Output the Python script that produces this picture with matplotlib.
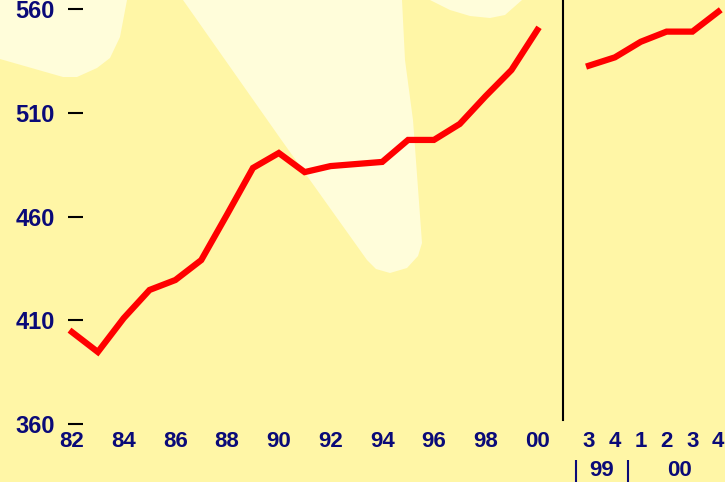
import matplotlib
matplotlib.use("Agg")
import matplotlib.pyplot as plt
from matplotlib.patches import Polygon
from matplotlib.transforms import blended_transform_factory

# --- data ---
years = ["82", "83", "84", "85", "86", "87", "88", "89", "90", "91",
         "92", "93", "94", "95", "96", "97", "98", "99", "00"]
annual = [404.3, 394.7, 411.0, 424.6, 429.4, 439.0, 461.0, 483.4, 490.6, 481.4,
          484.3, 485.3, 486.3, 496.9, 496.9, 504.6, 518.0, 530.6, 549.9]
quarters = ["3", "4", "1", "2", "3", "4"]
quarterly = [532.7, 536.7, 544.2, 549.1, 549.1, 558.7]
quarter_years = ["99", "00"]
quarters_per_year = [2, 4]
y_ticks = [360, 410, 460, 510, 560]

BG = "#FFF6A6"
LIGHT = "#FFFDDA"
NAVY = "#0A0A78"
W, H = 725, 482

plt.rcParams['font.family'] = ['Liberation Sans', 'DejaVu Sans']

fig = plt.figure(figsize=(W / 100, H / 100), dpi=100)
fig.patch.set_facecolor(BG)
ax = fig.add_axes([0, 0, 1, 1])
ax.set_facecolor("none")

# decorative light shapes (pixel outlines -> figure fraction)
shapes = [
    [(0, 0), (127, 0), (120, 37), (110, 58), (97, 68), (77, 77), (63, 77), (0, 59)],
    [(183, 0), (402, 0), (405, 60), (413, 120), (422, 243), (418, 256), (407, 268),
     (390, 273), (376, 269), (367, 260), (280, 138)],
    [(430, 0), (450, 10), (470, 16), (490, 18), (505, 15), (522, 0)],
]
for pts in shapes:
    ax.add_patch(Polygon([(x / W, 1 - y / H) for x, y in pts], closed=True,
                         transform=fig.transFigure, facecolor=LIGHT,
                         edgecolor="none", zorder=0))

# positions: annual 0..18, gap at 19, quarterly 20..25
x_annual = list(range(len(annual)))
x_quarter = [len(annual) + 1 + i for i in range(len(quarterly))]

ax.plot(x_annual, annual, color="#FF0000", lw=4.5, solid_joinstyle="miter", zorder=3)
ax.plot(x_quarter, quarterly, color="#FF0000", lw=4.5, solid_joinstyle="miter", zorder=3)

ax.set_xlim(-2.785, 25.26)
ax.set_ylim(332.05, 564.34)

# separator line between annual and quarterly
ax.axvline(len(annual), ymin=(H - 420) / H, ymax=1, color="black", lw=1.5, zorder=2)

for s in ["top", "right"]:
    ax.spines[s].set_visible(False)
ax.spines["left"].set_position(("data", 0.42))
ax.spines["left"].set_visible(False)
ax.spines["bottom"].set_position(("data", 360))
ax.spines["bottom"].set_visible(False)

ax.set_yticks(y_ticks)
ax.set_yticklabels([str(v) for v in y_ticks], fontweight="bold", fontsize=17, color=NAVY)
ax.tick_params(axis="y", direction="out", length=11, width=1.5, color="black", pad=9)

xt = x_annual[::2] + x_quarter
xl = years[::2] + quarters
ax.set_xticks(xt)
ax.set_xticklabels(xl, fontweight="bold", fontsize=16, color=NAVY)
ax.tick_params(axis="x", length=0, pad=5)

# year labels for the quarterly section
trans = blended_transform_factory(ax.transData, ax.transAxes)
start = x_quarter[0]
ax.vlines(start - 0.5, 0, 22 / H, transform=trans, color=NAVY, lw=1.5, clip_on=False)
for yr, n in zip(quarter_years, quarters_per_year):
    ax.text(start + (n - 1) / 2, 11 / H, yr, transform=trans, ha="center", va="center",
            fontsize=16, fontweight="bold", color=NAVY)
    start += n
    ax.vlines(start - 0.5, 0, 22 / H, transform=trans, color=NAVY, lw=1.5, clip_on=False)

fig.savefig("out.png", dpi=100, facecolor=BG)
